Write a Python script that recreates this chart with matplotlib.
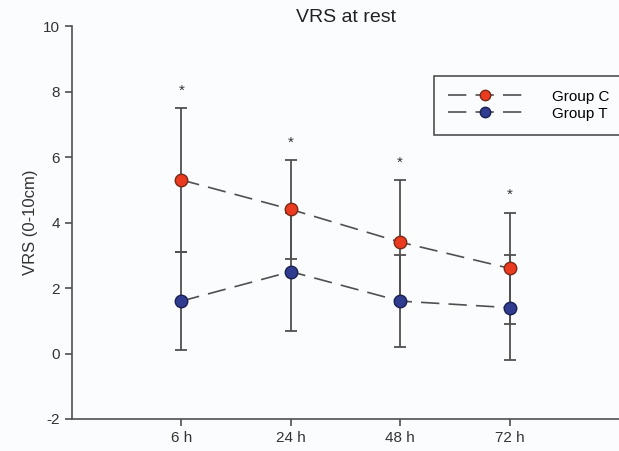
import matplotlib
matplotlib.use("Agg")
import matplotlib.pyplot as plt
import numpy as np
from matplotlib.lines import Line2D

plt.rcParams["font.family"] = ["Liberation Sans", "DejaVu Sans"]
plt.rcParams["axes.unicode_minus"] = False

# data
times = ["6 h", "24 h", "48 h", "72 h"]
group_c = [5.3, 4.4, 3.4, 2.6]
group_c_sd = [2.2, 1.5, 1.9, 1.7]
group_t = [1.6, 2.5, 1.6, 1.4]
group_t_sd = [1.5, 1.8, 1.4, 1.6]
significant = [True, True, True, True]

x = np.arange(1, len(times) + 1)
grey = "#505050"
bg = "#fbfcfe"

fig = plt.figure(figsize=(6.19, 4.51), dpi=100, facecolor=bg)
ax = fig.add_axes([72 / 619, 1 - 419 / 451, 1 - 72 / 619, (419 - 26) / 451])
ax.set_facecolor(bg)

dash = (0, (11, 5.5))
for vals, sd, fill, edge in [(group_c, group_c_sd, "#ea3a1f", "#7a2a18"),
                             (group_t, group_t_sd, "#2f3c90", "#1a2050")]:
    ax.errorbar(x, vals, yerr=sd, fmt="none", ecolor=grey, elinewidth=1.3,
                capsize=4.5, capthick=1.3, zorder=2)
    ax.plot(x, vals, linestyle=dash, color=grey, lw=1.2, zorder=3)
    ax.plot(x, vals, linestyle="none", marker="o", markersize=9,
            markerfacecolor=fill, markeredgecolor=edge, markeredgewidth=1.0, zorder=4)

# significance stars above the Group C error bars
for xi, v, s, sig in zip(x, group_c, group_c_sd, significant):
    if sig:
        ax.annotate("*", (xi, v + s), xytext=(0, 7.5), textcoords="offset points",
                    ha="center", va="bottom", fontsize=11, color="#333333")

ax.set_xlim(0, 5)
ax.set_ylim(-2, 10)
ax.set_xticks(x)
ax.set_xticklabels(times, fontsize=11)
ax.set_yticks(range(-2, 11, 2))
ax.tick_params(axis="y", labelsize=11, colors="#333333", length=5, width=1.2, color=grey)
ax.tick_params(axis="x", colors="#333333", length=5, width=1.2, color=grey)
for side in ["top", "right"]:
    ax.spines[side].set_visible(False)
for side in ["left", "bottom"]:
    ax.spines[side].set_color(grey)
    ax.spines[side].set_linewidth(1.2)

ax.set_ylabel("VRS (0-10cm)", fontsize=12, color="#333333", labelpad=4)
ax.set_title("VRS at rest", fontsize=14, color="#222222", pad=2)

handles = [
    Line2D([], [], linestyle=(0, (11, 5.5)), color=grey, lw=1.2, marker="o",
           markersize=7.5, markerfacecolor="#ea3a1f", markeredgecolor="#7a2a18"),
    Line2D([], [], linestyle=(0, (11, 5.5)), color=grey, lw=1.2, marker="o",
           markersize=7.5, markerfacecolor="#2f3c90", markeredgecolor="#1a2050"),
]
leg = fig.legend(handles, ["Group C", "Group T"], loc="upper left",
                 bbox_to_anchor=(434 / 619, 1 - 76 / 451), fontsize=11,
                 handlelength=4.9, handletextpad=1.9, labelspacing=0.2,
                 borderpad=0.9, borderaxespad=0, fancybox=False, framealpha=1,
                 edgecolor=grey, facecolor=bg)
leg.get_frame().set_linewidth(1.2)

fig.savefig("out.png", dpi=100, facecolor=bg)
